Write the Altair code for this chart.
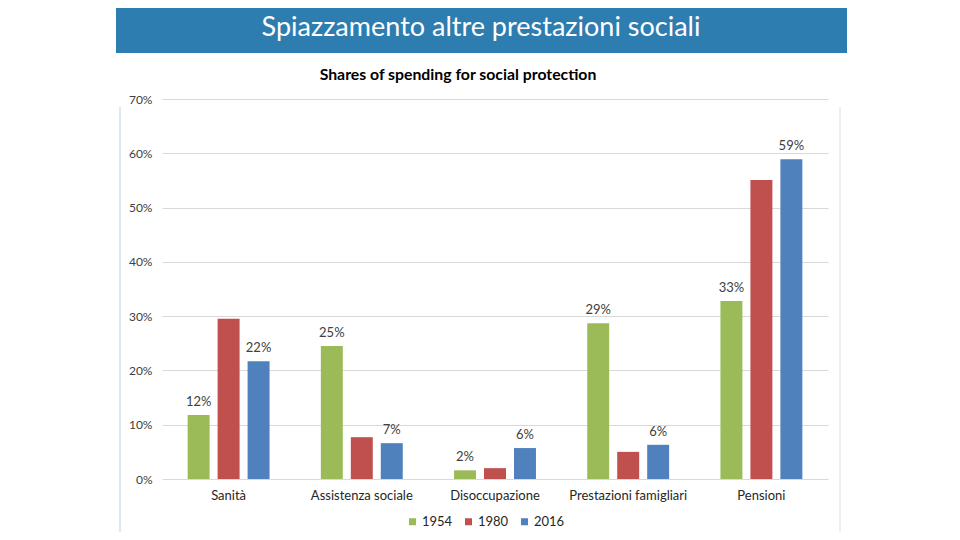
import altair as alt
import pandas as pd

# ---- data ----
categories = ["Sanità", "Assistenza sociale", "Disoccupazione", "Prestazioni famigliari", "Pensioni"]
years = ["1954", "1980", "2016"]
v1954 = [0.118, 0.245, 0.016, 0.287, 0.328]
v1980 = [0.295, 0.077, 0.020, 0.050, 0.551]
v2016 = [0.217, 0.066, 0.057, 0.063, 0.589]
labeled_years = ["1954", "2016"]
colors = ["#9BBB59", "#C0504D", "#4F81BD"]
y_ticks = [0.0, 0.1, 0.2, 0.3, 0.4, 0.5, 0.6, 0.7]
banner_title = "Spiazzamento altre prestazioni sociali"
chart_title = "Shares of spending for social protection"

rows = []
for i, c in enumerate(categories):
    for yr, vals in zip(years, [v1954, v1980, v2016]):
        rows.append({"cat": c, "year": yr, "value": vals[i], "labeled": yr in labeled_years})
df = pd.DataFrame(rows)

FONT = "Lato"
W, H = 666, 380

xenc = alt.X(
    "cat:N", sort=categories,
    scale=alt.Scale(paddingInner=0.385, paddingOuter=0.1925),
    axis=alt.Axis(title=None, labelAngle=0, ticks=False, domain=False, labelPadding=10,
                  labelFontSize=13, labelColor="#262626", labelFont=FONT),
)
xoff = alt.XOffset("year:N", sort=years,
                   scale=alt.Scale(domain=years, paddingInner=0.267, paddingOuter=0))
yenc = alt.Y(
    "value:Q", scale=alt.Scale(domain=[0, 0.7], nice=False),
    axis=alt.Axis(values=y_ticks, format=".0%", title=None, domain=False, ticks=False,
                  labelPadding=10, gridColor="#D9D9D9", labelFontSize=12,
                  labelColor="#404040", labelFont=FONT),
)

bars = alt.Chart(df).mark_bar().encode(
    x=xenc, xOffset=xoff, y=yenc,
    color=alt.Color("year:N", scale=alt.Scale(domain=years, range=colors),
                    legend=alt.Legend(title=None, orient="none", legendX=244, legendY=416,
                                      direction="horizontal", symbolType="square",
                                      symbolSize=49, symbolStrokeWidth=0, labelFontSize=13,
                                      labelFont=FONT, labelColor="#262626", labelOffset=3,
                                      columnPadding=9, padding=0)),
)

labels = alt.Chart(df).transform_filter(alt.datum.labeled).mark_text(
    baseline="bottom", dy=-6, fontSize=13, color="#404040", font=FONT
).encode(x=xenc, xOffset=xoff, y=yenc, text=alt.Text("value:Q", format=".0%"))

banner = alt.Chart(pd.DataFrame({"t": [banner_title]})).mark_rect(color="#2E7DB0").encode(
    x=alt.value(-46), x2=alt.value(685), y=alt.value(-91), y2=alt.value(-46)
)
banner_text = alt.Chart(pd.DataFrame({"t": [banner_title]})).mark_text(
    color="white", fontSize=27, font=FONT, align="center", baseline="middle"
).encode(text="t:N", x=alt.value(319), y=alt.value(-71))

title_text = alt.Chart(pd.DataFrame({"t": [chart_title]})).mark_text(
    color="#000000", fontSize=15.8, font=FONT, fontWeight="bold", align="center", baseline="middle"
).encode(text="t:N", x=alt.value(296), y=alt.value(-24))

frame_left = alt.Chart(pd.DataFrame({"t": [0]})).mark_rule(color="#D5E1EC", strokeWidth=1.5).encode(
    x=alt.value(-42), y=alt.value(8), y2=alt.value(445)
)
frame_right = alt.Chart(pd.DataFrame({"t": [0]})).mark_rule(color="#E8E8E8", strokeWidth=1.5).encode(
    x=alt.value(678), y=alt.value(8), y2=alt.value(445)
)

chart = alt.layer(banner, banner_text, title_text, frame_left, frame_right, bars, labels).properties(
    width=W, height=H,
    autosize=alt.AutoSizeParams(type="none"),
    padding={"left": 154, "top": 91, "right": 120, "bottom": 53},
).configure_view(stroke=None)

chart.save("out.html", embed_options={"renderer": "svg", "actions": False})
